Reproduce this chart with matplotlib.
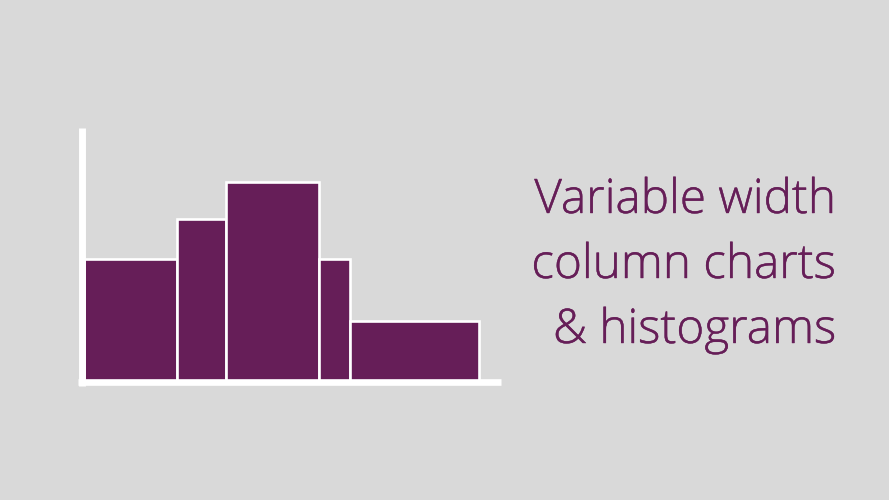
import matplotlib
matplotlib.use('Agg')
import matplotlib.pyplot as plt
import matplotlib.patheffects as pe

# lebar dan tinggi kolom
widths = [93.6, 49, 92.7, 31.3, 128.7]
heights = [122.3, 162, 199, 122.3, 59.7]
title_lines = ['Variable width', 'column charts', '& histograms']

bg = '#d9d9d9'
purple = '#661e58'

fig = plt.figure(figsize=(8.89, 5.0), dpi=100, facecolor=bg)
ax = fig.add_axes([0, 0, 1, 1], facecolor=bg)
ax.set_xlim(-85, 804)
ax.set_ylim(-119, 381)
ax.axis('off')

# kolom pertama mulai sedikit di balik sumbu supaya garis kirinya tertutup
left = -1.3
for w, h in zip(widths, heights):
    ax.bar(left, h, width=w, align='edge', color=purple, edgecolor='white', linewidth=1.9, zorder=2)
    left += w

# sumbu putih
ax.plot([-3.5, -3.5], [-4.7, 253], color='white', linewidth=5.0, solid_capstyle='butt', zorder=3)
ax.plot([-7, 416], [-1.3, -1.3], color='white', linewidth=4.8, solid_capstyle='butt', zorder=3)

for i, line in enumerate(title_lines):
    t = fig.text(836 / 889, 1 - (213 + i * 65) / 500, line, ha='right', va='baseline',
                 color=purple, fontsize=34.3, family='Open Sans', fontweight='light')
    # huruf aslinya sedikit lebih tebal dari Open Sans Light
    t.set_path_effects([pe.withStroke(linewidth=0.3, foreground=purple)])

fig.savefig('out.png', dpi=100, facecolor=bg)
